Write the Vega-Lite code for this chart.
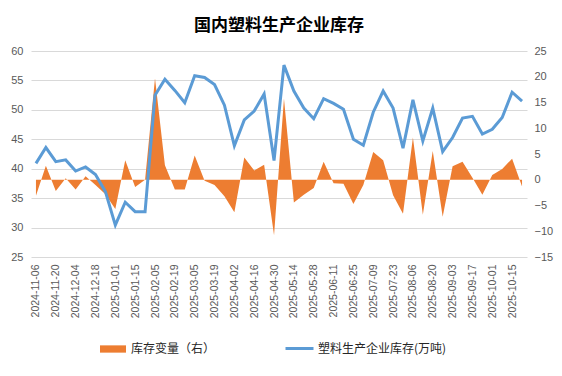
{
  "$schema": "https://vega.github.io/schema/vega-lite/v6.json",
  "width": 496,
  "height": 206,
  "autosize": {"type": "none"},
  "padding": {"left": 31, "top": 51, "right": 35, "bottom": 119},
  "background": "white",
  "title": {
    "text": "国内塑料生产企业库存",
    "font": "Noto Sans CJK SC",
    "fontSize": 17,
    "fontWeight": "bold",
    "color": "#000000",
    "anchor": "middle",
    "offset": 10
  },
  "config": {
    "view": {"stroke": null},
    "axis": {"labelFont": "Liberation Sans", "labelFontSize": 11, "labelColor": "#595959", "domain": false, "ticks": false, "title": null}
  },
  "data": {
    "values": [
      {"date": "2024-11-06", "inv": 40.9, "chg": -3.1},
      {"date": "2024-11-13", "inv": 43.6, "chg": 2.7},
      {"date": "2024-11-20", "inv": 41.2, "chg": -2.2},
      {"date": "2024-11-27", "inv": 41.5, "chg": 0.3},
      {"date": "2024-12-04", "inv": 39.6, "chg": -1.9},
      {"date": "2024-12-11", "inv": 40.3, "chg": 0.7},
      {"date": "2024-12-18", "inv": 39.0, "chg": -1.0},
      {"date": "2024-12-25", "inv": 36.1, "chg": -2.8},
      {"date": "2025-01-01", "inv": 30.4, "chg": -5.7},
      {"date": "2025-01-08", "inv": 34.3, "chg": 3.8},
      {"date": "2025-01-15", "inv": 32.7, "chg": -1.4},
      {"date": "2025-01-22", "inv": 32.7, "chg": 0.0},
      {"date": "2025-02-05", "inv": 52.5, "chg": 19.7},
      {"date": "2025-02-12", "inv": 55.2, "chg": 2.8},
      {"date": "2025-02-19", "inv": 53.3, "chg": -1.9},
      {"date": "2025-02-26", "inv": 51.2, "chg": -1.9},
      {"date": "2025-03-05", "inv": 55.8, "chg": 4.7},
      {"date": "2025-03-12", "inv": 55.5, "chg": -0.2},
      {"date": "2025-03-19", "inv": 54.3, "chg": -1.0},
      {"date": "2025-03-26", "inv": 50.8, "chg": -3.2},
      {"date": "2025-04-02", "inv": 43.9, "chg": -6.3},
      {"date": "2025-04-09", "inv": 48.3, "chg": 4.3},
      {"date": "2025-04-16", "inv": 49.8, "chg": 1.8},
      {"date": "2025-04-23", "inv": 52.7, "chg": 2.9},
      {"date": "2025-04-30", "inv": 41.4, "chg": -10.8},
      {"date": "2025-05-07", "inv": 57.6, "chg": 15.8},
      {"date": "2025-05-14", "inv": 53.2, "chg": -4.4},
      {"date": "2025-05-21", "inv": 50.3, "chg": -2.9},
      {"date": "2025-05-28", "inv": 48.5, "chg": -1.6},
      {"date": "2025-06-04", "inv": 51.9, "chg": 3.5},
      {"date": "2025-06-11", "inv": 51.1, "chg": -0.7},
      {"date": "2025-06-18", "inv": 50.1, "chg": -0.8},
      {"date": "2025-06-25", "inv": 45.0, "chg": -4.7},
      {"date": "2025-07-02", "inv": 44.0, "chg": -1.0},
      {"date": "2025-07-09", "inv": 49.6, "chg": 5.4},
      {"date": "2025-07-16", "inv": 53.2, "chg": 3.8},
      {"date": "2025-07-23", "inv": 50.3, "chg": -3.0},
      {"date": "2025-07-30", "inv": 43.5, "chg": -6.6},
      {"date": "2025-08-06", "inv": 51.7, "chg": 8.2},
      {"date": "2025-08-13", "inv": 44.7, "chg": -6.8},
      {"date": "2025-08-20", "inv": 50.3, "chg": 5.6},
      {"date": "2025-08-27", "inv": 42.9, "chg": -7.2},
      {"date": "2025-09-03", "inv": 45.3, "chg": 2.6},
      {"date": "2025-09-10", "inv": 48.6, "chg": 3.5},
      {"date": "2025-09-17", "inv": 48.9, "chg": 0.4},
      {"date": "2025-09-24", "inv": 45.9, "chg": -2.9},
      {"date": "2025-10-01", "inv": 46.7, "chg": 0.9},
      {"date": "2025-10-08", "inv": 48.7, "chg": 2.1},
      {"date": "2025-10-15", "inv": 53.0, "chg": 4.1},
      {"date": "2025-10-22", "inv": 51.5, "chg": -1.3}
    ]
  },
  "encoding": {
    "x": {
      "field": "date",
      "type": "ordinal",
      "sort": null,
      "scale": {"type": "point", "padding": 0.5},
      "axis": {
        "labelAngle": -90,
        "labelPadding": 7,
        "labelFontSize": 10.5,
        "grid": false,
        "values": ["2024-11-06","2024-11-20","2024-12-04","2024-12-18","2025-01-01","2025-01-15","2025-02-05","2025-02-19","2025-03-05","2025-03-19","2025-04-02","2025-04-16","2025-04-30","2025-05-14","2025-05-28","2025-06-11","2025-06-25","2025-07-09","2025-07-23","2025-08-06","2025-08-20","2025-09-03","2025-09-17","2025-10-01","2025-10-15"]
      }
    }
  },
  "layer": [
    {
      "mark": {"type": "area", "interpolate": "linear"},
      "encoding": {
        "y": {
          "field": "chg",
          "type": "quantitative",
          "scale": {"domain": [-15, 25], "nice": false},
          "axis": {"orient": "right", "values": [-15,-10,-5,0,5,10,15,20,25], "grid": false, "labelPadding": 7, "labelAlign": "left"}
        },
        "fill": {
          "datum": "库存变量（右）",
          "type": "nominal",
          "scale": {"range": ["#ED7D31"]},
          "legend": {
            "orient": "none",
            "legendX": 69,
            "legendY": 285,
            "title": null,
            "symbolType": "M-1,-0.28H1V0.28H-1Z",
            "symbolSize": 676,
            "symbolStrokeWidth": 0,
            "symbolOpacity": 1,
            "labelFont": "Noto Sans CJK SC",
            "labelFontSize": 12,
            "labelColor": "#262626",
            "labelOffset": 5
          }
        }
      }
    },
    {
      "mark": {"type": "line", "strokeWidth": 3, "interpolate": "linear"},
      "encoding": {
        "y": {
          "field": "inv",
          "type": "quantitative",
          "scale": {"domain": [25, 60], "nice": false},
          "axis": {"orient": "left", "values": [25,30,35,40,45,50,55,60], "grid": true, "gridColor": "#d9d9d9", "labelPadding": 8}
        },
        "stroke": {
          "datum": "塑料生产企业库存(万吨)",
          "type": "nominal",
          "scale": {"range": ["#5B9BD5"]},
          "legend": {
            "orient": "none",
            "legendX": 253,
            "legendY": 282,
            "title": null,
            "symbolType": "stroke",
            "symbolSize": 784,
            "symbolStrokeWidth": 3,
            "labelFont": "Noto Sans CJK SC",
            "labelFontSize": 12,
            "labelColor": "#262626",
            "labelOffset": 3
          }
        }
      }
    }
  ],
  "resolve": {"scale": {"y": "independent"}}
}
